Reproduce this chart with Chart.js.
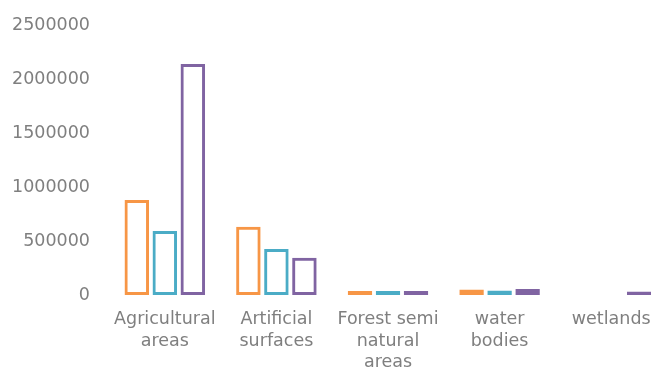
<!DOCTYPE html>
<html>
<head>
<meta charset="utf-8">
<script src="https://cdn.jsdelivr.net/npm/chart.js@4/dist/chart.umd.min.js"></script>
<style>
  html, body { margin: 0; padding: 0; background: #ffffff; overflow: hidden; }
  #wrap { width: 667px; height: 374px; }
</style>
</head>
<body>
<div id="wrap"><canvas id="chart" width="667" height="374"></canvas></div>
<script>
// Land cover categories (multi-line labels as drawn under the axis)
const categories = [
  ["Agricultural", "areas"],
  ["Artificial", "surfaces"],
  ["Forest semi", "natural", "areas"],
  ["water", "bodies"],
  ["wetlands"]
];

// Three series of area values per category
const seriesA = [880000, 632000, 37000, 51000, 0];
const seriesB = [593000, 426000, 37000, 42000, 0];
const seriesC = [2139000, 345000, 37000, 55000, 32000];

// Value axis
const yTickLabels = ["0", "500000", "1000000", "1500000", "2000000", "2500000"];
const yMax = 2500000;
const yStep = 500000;

const colors = ["#F79646", "#4BACC6", "#8064A2"];
const textColor = "#7f7f7f";
const font = { family: "'DejaVu Sans', sans-serif", size: 17.5, lineHeight: 1.23 };

function outlined(data, color) {
  return {
    data: data,
    backgroundColor: "rgba(255,255,255,0)",
    borderColor: color,
    borderWidth: 3,
    borderSkipped: false,
    barPercentage: 0.875,
    categoryPercentage: 0.753
  };
}

new Chart(document.getElementById("chart"), {
  type: "bar",
  data: {
    labels: categories,
    datasets: [
      outlined(seriesA, colors[0]),
      outlined(seriesB, colors[1]),
      outlined(seriesC, colors[2])
    ]
  },
  options: {
    responsive: false,
    devicePixelRatio: 1,
    animation: false,
    layout: { padding: { top: 25, left: 12, right: 0, bottom: 0 } },
    plugins: {
      legend: { display: false },
      tooltip: { enabled: false }
    },
    scales: {
      x: {
        grid: { display: false, drawTicks: false },
        border: { display: false },
        ticks: {
          color: textColor,
          font: font,
          padding: 14,
          maxRotation: 0,
          minRotation: 0,
          autoSkip: false
        },
        afterFit: (scale) => { scale.height = 79; }
      },
      y: {
        min: 0,
        max: yMax,
        grid: { display: false, drawTicks: false },
        border: { display: false },
        ticks: {
          stepSize: yStep,
          color: textColor,
          font: font,
          padding: 19,
          callback: (v, i) => yTickLabels[i]
        },
        afterFit: (scale) => {
          scale.width = 97;
          scale.paddingTop = 0;
          scale.paddingBottom = 0;
        }
      }
    }
  }
});
</script>
</body>
</html>
